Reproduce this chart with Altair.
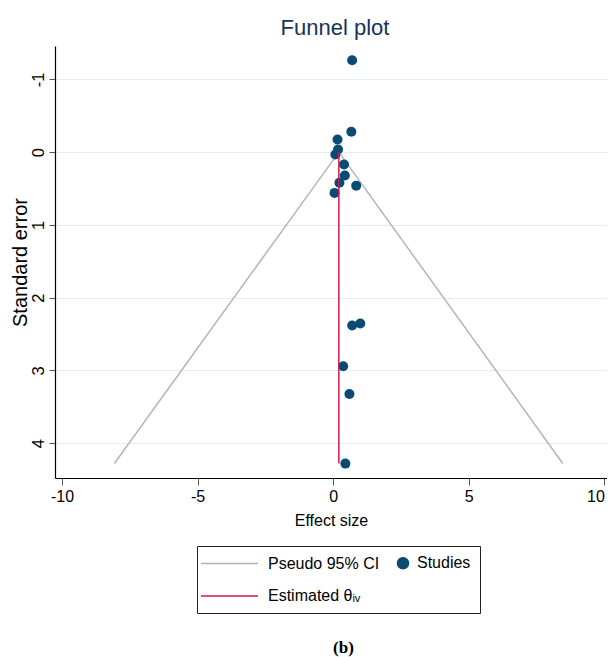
import altair as alt
import pandas as pd

# ---- data ----
series_names = ["Pseudo 95% CI", "Studies", "Estimated θᵢᵥ"]
series_colors = ["#b4b4b4", "#0c4a76", "#d6164a"]

effect_size = [0.70, 0.67, 0.16, 0.18, 0.08, 0.40, 0.43, 0.23, 0.85, 0.05,
               0.70, 1.00, 0.37, 0.60, 0.45]
std_error = [-1.265, -0.28, -0.175, -0.037, 0.032, 0.17, 0.32, 0.42, 0.46, 0.56,
             2.384, 2.356, 2.944, 3.325, 4.282]

ci_effect = [-8.07, 0.21, 8.47]
ci_se = [4.28, 0.0, 4.28]

theta_effect = [0.21, 0.21]
theta_se = [0.0, 4.28]

x_ticks = [-10, -5, 0, 5, 10]
y_ticks = [-1, 0, 1, 2, 3, 4]

ci_df = pd.DataFrame({"es": ci_effect, "se": ci_se, "series": series_names[0]})
pts_df = pd.DataFrame({"es": effect_size, "se": std_error, "series": series_names[1]})
est_df = pd.DataFrame({"es": theta_effect, "se": theta_se, "series": series_names[2]})

FONT = "Liberation Sans, Arial, sans-serif"

# legend glyphs (unit = half of sqrt(symbolSize))
circle_path = "M1.9,0A1.1,1.1,0,1,1,4.1,0A1.1,1.1,0,1,1,1.9,0Z"
line_path = "M-7.6,0H3.8"

x_enc = alt.X(
    "es:Q",
    scale=alt.Scale(domain=[-10.26, 10.1], nice=False, zero=False),
    axis=alt.Axis(values=x_ticks, title="Effect size", grid=False,
                  labelExpr="'' + datum.value",
                  labelAlign=alt.ExprRef(expr="datum.value >= 10 ? 'right' : 'center'")),
)
y_enc = alt.Y(
    "se:Q",
    scale=alt.Scale(domain=[-1.46, 4.48], nice=False, zero=False, reverse=True),
    axis=alt.Axis(values=y_ticks, title="Standard error", grid=True,
                  labelAngle=270, labelExpr="'' + datum.value"),
)
color_enc = alt.Color(
    "series:N",
    scale=alt.Scale(domain=series_names, range=series_colors),
    legend=alt.Legend(
        title=" ",
        titleOrient="left",
        titleFontSize=1,
        titlePadding=25,
        values=series_names,
        orient="none",
        direction="horizontal",
        legendX=142,
        legendY=500,
        columns=2,
        columnPadding=0,
        rowPadding=16,
        padding=9,
        strokeColor="#222222",
        fillColor="white",
        symbolSize=100,
        symbolStrokeWidth=1.5,
        symbolType=alt.ExprRef(
            expr="datum.value === 'Studies' ? '" + circle_path + "' : '" + line_path + "'"),
        symbolStrokeColor=alt.ExprRef(
            expr="datum.value === 'Studies' ? '#0c4a76' : datum.value === 'Pseudo 95% CI' ? '#b4b4b4' : '#d6164a'"),
        symbolFillColor=alt.ExprRef(
            expr="datum.value === 'Studies' ? '#0c4a76' : 'transparent'"),
        labelOffset=21,
        labelFont=FONT,
        labelFontSize=16,
        labelColor="black",
        labelLimit=300,
    ),
)

ci = alt.Chart(ci_df).mark_line(strokeWidth=1.5).encode(x=x_enc, y=y_enc, color=color_enc)
pts = alt.Chart(pts_df).mark_point(filled=True, size=100, opacity=1).encode(
    x="es:Q", y="se:Q", color=color_enc)
est = alt.Chart(est_df).mark_line(strokeWidth=1.5).encode(x="es:Q", y="se:Q", color=color_enc)

main = alt.layer(ci, pts, est).properties(
    width=552, height=432,
    title=alt.TitleParams("Funnel plot", font=FONT, fontSize=22, fontWeight="normal",
                          color="#16345a", offset=6, dx=4),
)

chart = alt.vconcat(main).properties(
    title=alt.TitleParams("(b)", orient="bottom", anchor="middle", font="Liberation Serif",
                          fontSize=17, fontWeight="bold", color="black", offset=26, dx=35),
    padding={"left": 9, "top": 17, "right": 0, "bottom": 5},
).configure(
    background="white",
).configure_view(
    stroke=None,
).configure_axis(
    domainColor="black",
    domainWidth=1.2,
    tickColor="#555555",
    labelColor="black",
    titleColor="black",
    titleFontWeight="normal",
    gridColor="#e2edf0",
    gridWidth=1.2,
).configure_axisX(
    labelFont=FONT, labelFontSize=16, titleFont=FONT, titleFontSize=16,
    tickSize=7, labelPadding=3, titlePadding=8,
).configure_axisY(
    labelFont=FONT, labelFontSize=16.5, titleFont=FONT, titleFontSize=20,
    tickSize=6, labelPadding=3, titlePadding=0,
)

chart.save("out.html", embed_options={"renderer": "svg", "actions": False})
